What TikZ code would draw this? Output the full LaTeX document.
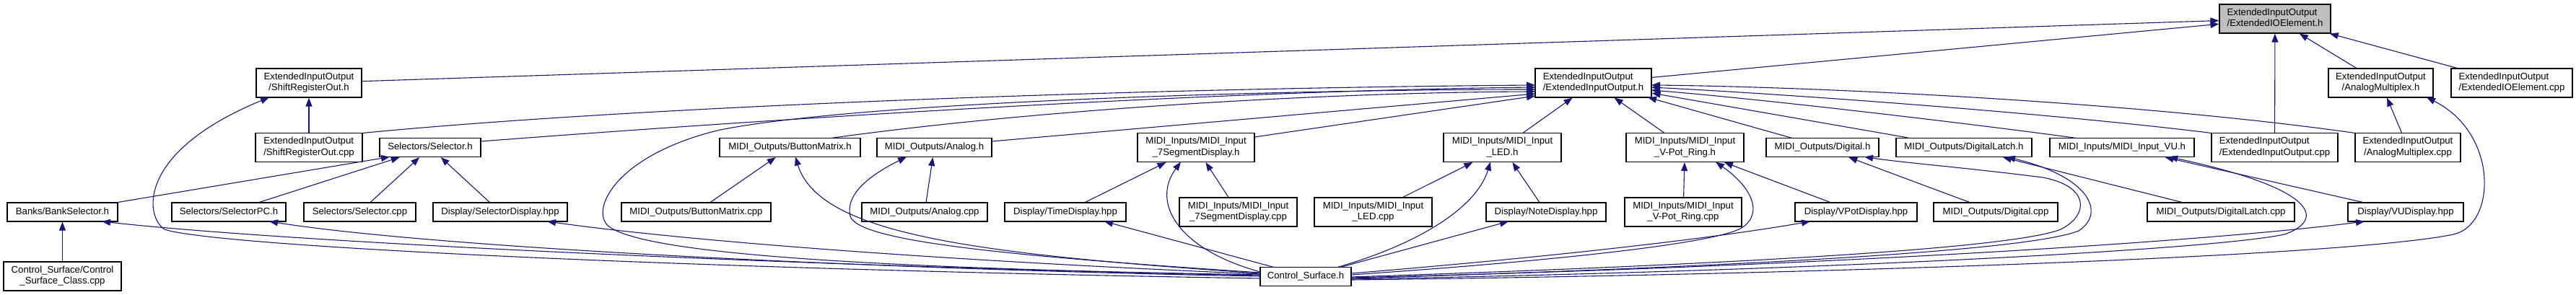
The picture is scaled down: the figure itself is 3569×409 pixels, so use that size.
\documentclass[tikz,border=0pt]{standalone}
\usepackage{fontspec}
\newfontfamily\dox{Liberation Sans}
\usetikzlibrary{arrows.meta,calc}
\definecolor{edgecol}{HTML}{191970}
\definecolor{nodegray}{HTML}{BFBFBF}
\newcommand{\dtwo}[2]{\begin{tabular}{@{}l@{}}#1\\\multicolumn{1}{@{}c@{}}{#2}\end{tabular}}
\tikzset{
  box/.style={draw=black, line width=1.1pt, fill=white, inner sep=0pt, font=\dox\fontsize{13.2}{15}\selectfont},
  conn/.style={draw=edgecol, line width=1.1pt, -{Triangle[length=12pt,width=9pt]}},
}
\begin{document}
\begin{tikzpicture}[x=1pt,y=-1pt]
\fill[white] (0,0) rectangle (3569,409);
\useasboundingbox (0,0) rectangle (3569,409);
% row 0/1
\node[box,minimum width=154,minimum height=40,fill=nodegray] (eioeh) at (3152,26) {\dtwo{ExtendedInputOutput}{/ExtendedIOElement.h}};
\node[box,minimum width=145,minimum height=40] (amuxh) at (3298.5,115) {\dtwo{ExtendedInputOutput}{/AnalogMultiplex.h}};
\node[box,minimum width=168,minimum height=40] (eioecpp) at (3480,115) {\dtwo{ExtendedInputOutput}{/ExtendedIOElement.cpp}};
\node[box,minimum width=161,minimum height=40] (eioh) at (2207.5,115) {\dtwo{ExtendedInputOutput}{/ExtendedInputOutput.h}};
\node[box,minimum width=146,minimum height=40] (sroh) at (428,115) {\dtwo{ExtendedInputOutput}{/ShiftRegisterOut.h}};
% row 2
\node[box,minimum width=148,minimum height=40] (srocpp) at (428,204.5) {\dtwo{ExtendedInputOutput}{/ShiftRegisterOut.cpp}};
\node[box,minimum width=140,minimum height=26] (selh) at (596,204.5) {\strut Selectors/Selector.h};
\node[box,minimum width=195,minimum height=26] (bmh) at (1094.5,204.5) {\strut MIDI\_Outputs/ButtonMatrix.h};
\node[box,minimum width=159,minimum height=26] (anh) at (1294.5,204.5) {\strut MIDI\_Outputs/Analog.h};
\node[box,minimum width=162,minimum height=40] (segh) at (1657,204.5) {\dtwo{MIDI\_Inputs/MIDI\_Input}{\_7SegmentDisplay.h}};
\node[box,minimum width=163,minimum height=40] (ledh) at (2081.5,204.5) {\dtwo{MIDI\_Inputs/MIDI\_Input}{\_LED.h}};
\node[box,minimum width=163,minimum height=40] (vpoth) at (2334.5,204.5) {\dtwo{MIDI\_Inputs/MIDI\_Input}{\_V-Pot\_Ring.h}};
\node[box,minimum width=156,minimum height=26] (digh) at (2525,204.5) {\strut MIDI\_Outputs/Digital.h};
\node[box,minimum width=188,minimum height=26] (dlh) at (2721,204.5) {\strut MIDI\_Outputs/DigitalLatch.h};
\node[box,minimum width=200,minimum height=26] (vuh) at (2940,204.5) {\strut MIDI\_Inputs/MIDI\_Input\_VU.h};
\node[box,minimum width=175,minimum height=40] (eiocpp) at (3151.5,204.5) {\dtwo{ExtendedInputOutput}{/ExtendedInputOutput.cpp}};
\node[box,minimum width=146,minimum height=40] (amuxcpp) at (3336,204.5) {\dtwo{ExtendedInputOutput}{/AnalogMultiplex.cpp}};
% row 3
\node[box,minimum width=153,minimum height=26] (bsh) at (86.5,294) {\strut Banks/BankSelector.h};
\node[box,minimum width=158,minimum height=26] (selpch) at (317,294) {\strut Selectors/SelectorPC.h};
\node[box,minimum width=155,minimum height=26] (selcpp) at (498.5,294) {\strut Selectors/Selector.cpp};
\node[box,minimum width=186,minimum height=26] (seldisp) at (693,294) {\strut Display/SelectorDisplay.hpp};
\node[box,minimum width=207,minimum height=26] (bmcpp) at (964.5,294) {\strut MIDI\_Outputs/ButtonMatrix.cpp};
\node[box,minimum width=174,minimum height=26] (ancpp) at (1281,294) {\strut MIDI\_Outputs/Analog.cpp};
\node[box,minimum width=168,minimum height=26] (timed) at (1476,294) {\strut Display/TimeDisplay.hpp};
\node[box,minimum width=163,minimum height=40] (segcpp) at (1715.5,294) {\dtwo{MIDI\_Inputs/MIDI\_Input}{\_7SegmentDisplay.cpp}};
\node[box,minimum width=163,minimum height=40] (ledcpp) at (1902.5,294) {\dtwo{MIDI\_Inputs/MIDI\_Input}{\_LED.cpp}};
\node[box,minimum width=166,minimum height=26] (noted) at (2142,294) {\strut Display/NoteDisplay.hpp};
\node[box,minimum width=162,minimum height=40] (vpotcpp) at (2332,294) {\dtwo{MIDI\_Inputs/MIDI\_Input}{\_V-Pot\_Ring.cpp}};
\node[box,minimum width=169,minimum height=26] (vpotd) at (2571.5,294) {\strut Display/VPotDisplay.hpp};
\node[box,minimum width=172,minimum height=26] (digcpp) at (2765,294) {\strut MIDI\_Outputs/Digital.cpp};
\node[box,minimum width=204,minimum height=26] (dlcpp) at (3077,294) {\strut MIDI\_Outputs/DigitalLatch.cpp};
\node[box,minimum width=160,minimum height=26] (vud) at (3333,294) {\strut Display/VUDisplay.hpp};
% row 4
\node[box,minimum width=163,minimum height=40] (csclass) at (86.5,383) {\dtwo{Control\_Surface/Control}{\_Surface\_Class.cpp}};
\node[box,minimum width=126,minimum height=26] (csh) at (1809,383.5) {\strut Control\_Surface.h};

% straight edges
\draw[conn] (sroh) -- (eioeh);
\draw[conn] (eioh) -- (eioeh);
\draw[conn] (eiocpp) -- (eioeh);
\draw[conn] (amuxh) -- (eioeh);
\draw[conn] (eioecpp) -- (eioeh);
\draw[conn] (amuxcpp) -- (amuxh);
\draw[conn] (srocpp) -- (sroh);
\draw[conn] (bsh.north east) -- ($(selh)+(-56,13)$);
\draw[conn] (selpch) -- (selh);
\draw[conn] (selcpp) -- (selh);
\draw[conn] (seldisp) -- (selh);
\draw[conn] (csclass) -- (bsh);
\draw[conn] (bmcpp) -- (bmh);
\draw[conn] (ancpp) -- (anh);
\draw[conn] (timed) -- (segh);
\draw[conn] (segcpp) -- (segh);
\draw[conn] (ledcpp) -- (ledh);
\draw[conn] (noted) -- (ledh);
\draw[conn] (ledh) -- (eioh);
\draw[conn] (vpoth) -- (eioh);
\draw[conn] (vpotcpp) -- (vpoth);
\draw[conn] (vpotd) -- (vpoth);
\draw[conn] (digcpp) -- (digh);
\draw[conn] (dlcpp) -- (dlh);
\draw[conn] (dlh) -- (eioh);
\draw[conn] (vud) -- (vuh);

% into ExtendedInputOutput.h from the left
\draw[conn] ($(srocpp)+(74,-20)$) .. controls (900,146) and (1600,122) .. ($(eioh)+(-80.5,3)$);
\draw[conn] ($(selh)+(70,-8.5)$) .. controls (1200,155) and (1750,125) .. ($(eioh)+(-80.5,6)$);
\draw[conn] ($(bmh)+(56.5,-13)$) .. controls (1450,150) and (1850,128) .. ($(eioh)+(-80.5,12)$);
\draw[conn] ($(anh)+(79.5,-8.5)$) -- ($(eioh)+(-80.5,15)$);
\draw[conn] ($(segh)+(81,-14.5)$) -- ($(eioh)+(-80.5,18)$);
% into ExtendedInputOutput.h from the right
\draw[conn] ($(digh)+(-42,-13)$) -- ($(eioh)+(75.5,20)$);
\draw[conn] ($(vuh)+(-63,-13)$) .. controls (2750,174) and (2450,138) .. ($(eioh)+(80.5,10)$);
\draw[conn] ($(eiocpp)+(-87.5,-20)$) .. controls (2850,158) and (2500,132) .. ($(eioh)+(80.5,6)$);
\draw[conn] ($(amuxcpp)+(-73,-20)$) .. controls (2950,140) and (2500,120) .. ($(eioh)+(80.5,3)$);

% from Control_Surface.h, left side
\draw[conn] ($(csh)+(-63,-1.5)$) .. controls (1100,369) and (400,336) .. ($(bsh)+(54.5,13)$);
\draw[conn] ($(csh)+(-63,-0.5)$) .. controls (1200,373) and (600,343) .. ($(selpch)+(56,13)$);
\draw[conn] ($(csh)+(-63,-3.5)$) .. controls (1300,361) and (950,334) .. ($(seldisp)+(65,13)$);
\draw[conn] ($(csh)+(-63,2.5)$) .. controls (900,372) and (290,340) .. (228,318) .. controls (200,300) and (190,210) .. ($(sroh)+(-55,20)$);
\draw[conn] ($(csh)+(-63,-2.5)$) .. controls (1200,372) and (900,352) .. (845,315) .. controls (815,295) and (850,215) .. (998,180) .. controls (1200,140) and (1800,124) .. ($(eioh)+(-80.5,9)$);
\draw[conn] ($(csh)+(-63,-4.5)$) .. controls (1350,352) and (1135,325) .. ($(bmh)+(7.5,13)$);
\draw[conn] ($(csh)+(-63,-5.5)$) .. controls (1400,355) and (1190,335) .. (1178,300) .. controls (1170,265) and (1215,238) .. ($(anh)+(-38.5,13)$);
\draw[conn] ($(csh)+(-63,-6.5)$) .. controls (1630,345) and (1595,280) .. ($(segh)+(-21,20)$);
\draw[conn] ($(csh)+(-44,-13)$) -- ($(timed)+(54,13)$);
% from Control_Surface.h, right side
\draw[conn] ($(csh)+(44,-13)$) .. controls (1960,340) and (2045,290) .. ($(ledh)+(-16.5,20)$);
\draw[conn] ($(csh)+(48,-13)$) -- ($(noted)+(-52,13)$);
\draw[conn] ($(csh)+(63,-2.5)$) .. controls (2150,362) and (2375,338) .. (2413,316) .. controls (2445,295) and (2425,258) .. ($(vpoth)+(42.5,20)$);
\draw[conn] ($(csh)+(63,-4.5)$) .. controls (2200,352) and (2400,326) .. ($(vpotd)+(-63.5,13)$);
\draw[conn] ($(csh)+(63,0.5)$) .. controls (2300,370) and (2780,348) .. (2855,318) .. controls (2895,298) and (2895,258) .. (2830,246) .. controls (2720,232) and (2640,226) .. ($(digh)+(58,13)$);
\draw[conn] ($(csh)+(63,2.5)$) .. controls (2300,373) and (2800,352) .. (2880,320) .. controls (2918,295) and (2895,245) .. ($(dlh)+(59,13)$);
\draw[conn] ($(csh)+(63,3.5)$) .. controls (2500,376) and (3060,347) .. (3165,325) .. controls (3222,305) and (3212,262) .. ($(vuh)+(65,13)$);
\draw[conn] ($(csh)+(63,1.5)$) .. controls (2500,370) and (3050,336) .. ($(vud)+(-57,13)$);
\draw[conn] ($(csh)+(63,4.5)$) .. controls (2500,381) and (3250,356) .. (3399,325) .. controls (3459,312) and (3462,185) .. ($(amuxh)+(63.5,20)$);
\end{tikzpicture}
\end{document}
